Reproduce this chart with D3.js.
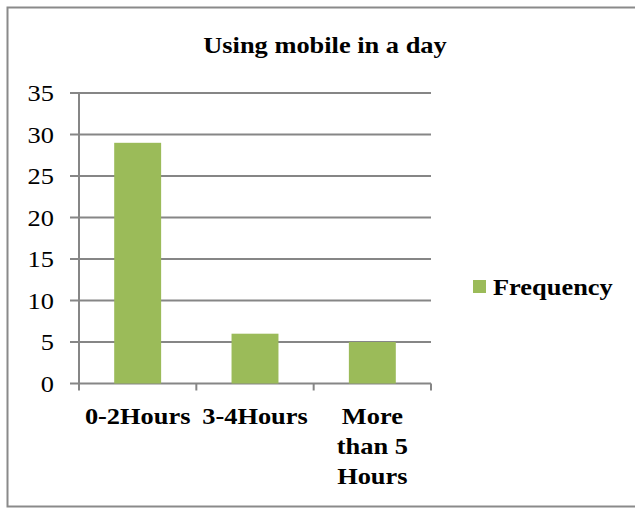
<!DOCTYPE html>
<html lang="en">
<head>
<meta charset="utf-8">
<title>Using mobile in a day</title>
<style>
  body { margin: 0; background: #fff; }
  svg { display: block; }
  text { font-family: "Liberation Serif", "Times New Roman", serif; fill: #000; }
  .title, .cat, .legend text { font-weight: bold; }
</style>
<script src="https://cdn.jsdelivr.net/npm/d3@7"></script>
</head>
<body>
<script>
// data
var categories = ["0-2Hours", "3-4Hours", "More than 5 Hours"];
var frequency = [29, 6, 5];
var yTicks = [0, 5, 10, 15, 20, 25, 30, 35];
var seriesName = "Frequency";

var width = 635, height = 508;
var plotL = 79, plotR = 431, plotT = 93, plotB = 383.5;
var green = "#9bbb59";
var stretch = 1.1; // the original's lettering is a bit wide

var svg = d3.select("body").append("svg")
  .attr("width", width)
  .attr("height", height);

// outer frame
svg.append("rect")
  .attr("x", 7.5).attr("y", 7.5)
  .attr("width", width).attr("height", 499)
  .attr("fill", "none")
  .attr("stroke", "#8a8a8a")
  .attr("stroke-width", 2);

var x = d3.scaleBand().domain(categories).range([plotL, plotR]).padding(0);
var y = d3.scaleLinear().domain([0, 35]).range([plotB, plotT]);

// helper: wide text placed at (px, py)
function wideText(sel, px, py) {
  return sel.append("g")
    .attr("transform", "translate(" + px + "," + py + ") scale(" + stretch + ",1)")
    .append("text");
}

wideText(svg, 325, 53)
  .attr("class", "title")
  .attr("text-anchor", "middle")
  .style("font-size", "24px")
  .text("Using mobile in a day");

// gridlines
svg.append("g").selectAll("line")
  .data(yTicks)
  .join("line")
  .attr("x1", plotL - 9).attr("x2", plotR)
  .attr("y1", function(d){ return y(d); })
  .attr("y2", function(d){ return y(d); })
  .attr("stroke", "#868686")
  .attr("stroke-width", 2);

// y labels
var yl = svg.append("g");
yTicks.forEach(function(d){
  wideText(yl, 54, y(d))
    .attr("dy", "0.35em")
    .attr("text-anchor", "end")
    .style("font-size", "24px")
    .text(d);
});

// axis lines
svg.append("line")
  .attr("x1", plotL).attr("x2", plotL)
  .attr("y1", plotT).attr("y2", plotB)
  .attr("stroke", "#868686").attr("stroke-width", 2);

var catTicks = categories.map(function(c){ return x(c); }).concat([plotR]);
svg.append("g").selectAll("line")
  .data(catTicks)
  .join("line")
  .attr("x1", function(d){ return d; }).attr("x2", function(d){ return d; })
  .attr("y1", plotB).attr("y2", plotB + 7)
  .attr("stroke", "#868686").attr("stroke-width", 2);

// bars
var barW = x.bandwidth() * 0.4;
svg.append("g").selectAll("rect")
  .data(frequency)
  .join("rect")
  .attr("x", function(d, i){ return x(categories[i]) + (x.bandwidth() - barW) / 2; })
  .attr("y", function(d){ return y(d); })
  .attr("width", barW)
  .attr("height", function(d){ return y(0) - y(d); })
  .attr("fill", green);

// category labels (wrapped like the original)
var wrapped = {
  "0-2Hours": ["0-2Hours"],
  "3-4Hours": ["3-4Hours"],
  "More than 5 Hours": ["More", "than 5", "Hours"]
};
var cl = svg.append("g");
categories.forEach(function(c){
  var t = wideText(cl, x(c) + x.bandwidth() / 2, 424)
    .attr("class", "cat")
    .attr("text-anchor", "middle")
    .style("font-size", "24px");
  wrapped[c].forEach(function(line, k){
    t.append("tspan").attr("x", 0).attr("y", k * 30).text(line);
  });
});

// legend
var lg = svg.append("g").attr("class", "legend");
lg.append("rect")
  .attr("x", 473).attr("y", 280)
  .attr("width", 13).attr("height", 13)
  .attr("fill", green);
wideText(lg, 493, 295)
  .style("font-size", "24px")
  .text(seriesName);
</script>
</body>
</html>
